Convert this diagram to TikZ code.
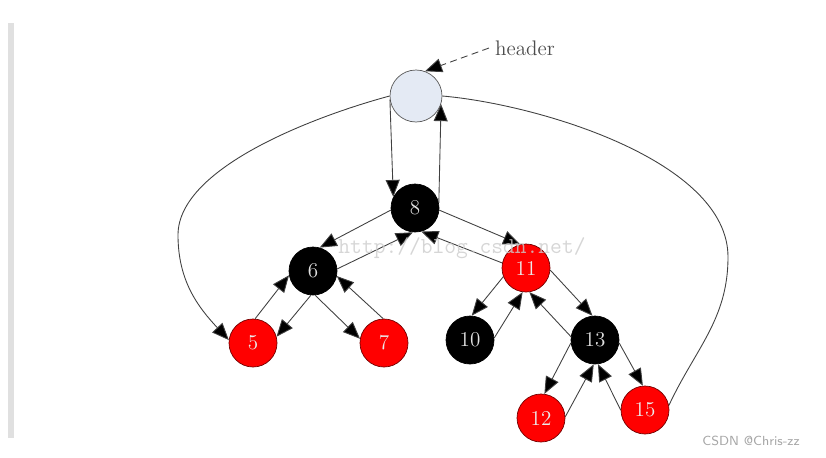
\documentclass[tikz,border=0pt]{standalone}
\usepackage{tikz}
\usetikzlibrary{arrows.meta}
\definecolor{hdrfill}{HTML}{E4EAF4}
\definecolor{rbred}{HTML}{FF0000}
\tikzset{
    rbnode/.style={circle, minimum size=9.6mm, inner sep=0pt, font=\fontsize{12}{14}\selectfont},
    blacknode/.style={rbnode, fill=black, draw=black, text=white!88!black},
    rednode/.style={rbnode, fill=rbred, draw=red!45!black, text=white!92!black},
    hdrnode/.style={circle, minimum size=10.4mm, fill=hdrfill, draw=black!65},
    link/.style={draw=black!75, line width=0.5pt, -{Triangle[length=3.4mm, width=2.8mm, fill=black]}},
    plain/.style={draw=black!75, line width=0.5pt}
}

\begin{document}
\begin{tikzpicture}
    \useasboundingbox (0,0) rectangle (16.52,9.14);
    \fill [black!12] (0.16,0.38) rectangle (0.28,8.68);

    \node [hdrnode] (hdr) at (8.32,7.22) {};
    \node [font=\large, text=black!70] (hlabel) at (10.50,8.18) {header};

    \node [blacknode] (n8) at (8.30,4.98) {8};
    \node [blacknode] (n6) at (6.26,3.72) {6};
    \node [rednode] (n11) at (10.52,3.78) {11};
    \node [rednode] (n5) at (5.06,2.28) {5};
    \node [rednode] (n7) at (7.68,2.28) {7};
    \node [blacknode] (n10) at (9.40,2.34) {10};
    \node [blacknode] (n13) at (11.90,2.34) {13};
    \node [rednode] (n12) at (10.82,0.78) {12};
    \node [rednode] (n15) at (12.90,0.94) {15};

    \coordinate (lbend) at (3.56,4.44);
    \coordinate (rbend) at (14.56,4.00);

    \draw [link, dash pattern=on 4pt off 2.5pt] (hlabel.west) -- (hdr.70);
    \draw [link] (hdr.188) -- (n8.153);
    \draw [link] (n8.12) -- (hdr.-18);
    \draw [link] (hdr.180) to [out=195, in=90, looseness=0.7] (lbend) to [out=-90, in=133] (n5.173);
    \draw [plain] (n15.11) to [out=65, in=-90] (rbend) to [out=90, in=-5, looseness=0.75] (hdr.0);

    \draw [link] (n8.185) -- (n6.74);
    \draw [link] (n6.5) -- (n8.-95);
    \draw [link] (n8.-5) -- (n11.104);
    \draw [link] (n11.168) -- (n8.-75);

    \draw [link] (n6.-95) -- (n5.15);
    \draw [link] (n5.85) -- (n6.190);
    \draw [link] (n6.-85) -- (n7.170);
    \draw [link] (n7.92) -- (n6.-12);

    \draw [link] (n11.201) -- (n10.86);
    \draw [link] (n10.5) -- (n11.-98);
    \draw [link] (n11.-5) -- (n13.96);
    \draw [link] (n13.172) -- (n11.-82);

    \draw [link] (n13.187) -- (n12.82);
    \draw [link] (n12.3) -- (n13.-93);
    \draw [link] (n13.-7) -- (n15.95);
    \draw [link] (n15.180) -- (n13.-83);

    \node [font=\ttfamily\fontsize{13}{15}\selectfont, text=black!20, opacity=0.8] (wmark) at (9.24,4.18) {http://blog.csdn.net/};
    \node [font=\sffamily\fontsize{7.5}{9}\selectfont, text=black!35] (credit) at (15.02,0.32) {CSDN @Chris-zz};
\end{tikzpicture}
\end{document}
